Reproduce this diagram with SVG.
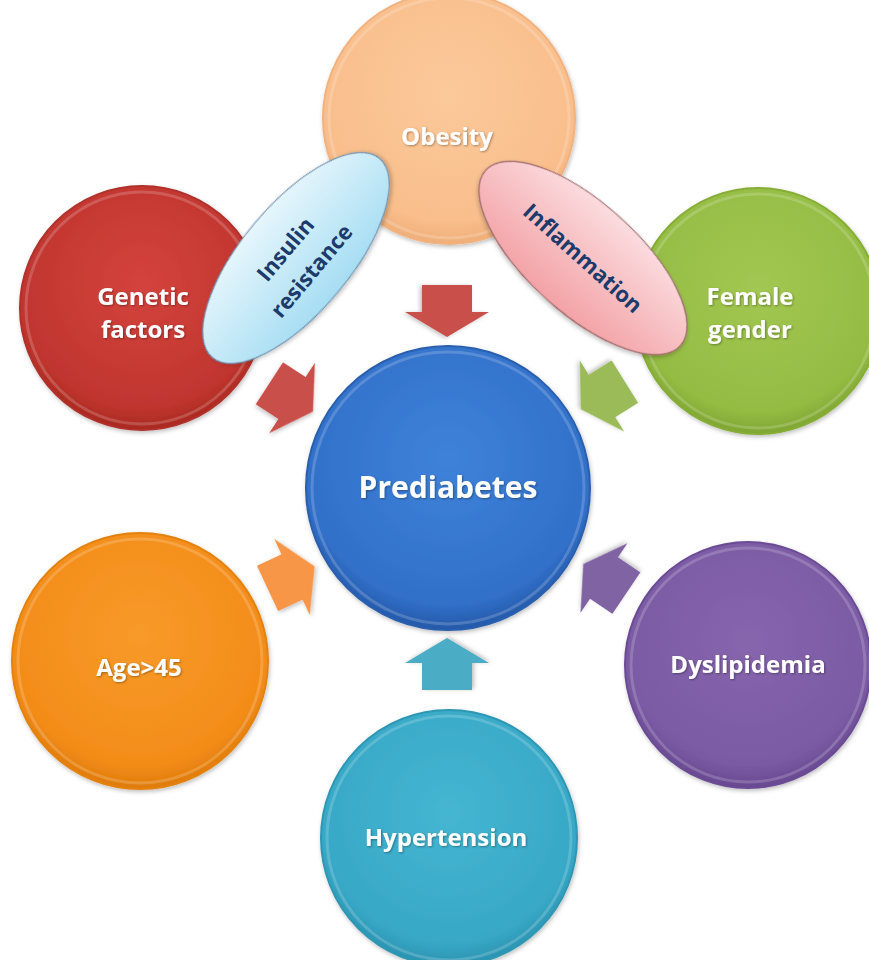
<svg xmlns="http://www.w3.org/2000/svg" width="869" height="960" viewBox="0 0 869 960">
<defs>
<radialGradient id="gRed" cx="50%" cy="40%" r="60%"><stop offset="0" stop-color="#D4433D"/><stop offset="0.85" stop-color="#C0352F"/><stop offset="1" stop-color="#A8291F"/></radialGradient>
<radialGradient id="gPeach" cx="50%" cy="40%" r="60%"><stop offset="0" stop-color="#FCC99A"/><stop offset="0.85" stop-color="#F9BE8C"/><stop offset="1" stop-color="#EFAE78"/></radialGradient>
<radialGradient id="gGreen" cx="50%" cy="40%" r="60%"><stop offset="0" stop-color="#A2C752"/><stop offset="0.85" stop-color="#94BC43"/><stop offset="1" stop-color="#7FA532"/></radialGradient>
<radialGradient id="gBlue" cx="50%" cy="40%" r="60%"><stop offset="0" stop-color="#3F82DA"/><stop offset="0.85" stop-color="#3170C9"/><stop offset="1" stop-color="#2558A8"/></radialGradient>
<radialGradient id="gOrange" cx="50%" cy="40%" r="60%"><stop offset="0" stop-color="#F89A2A"/><stop offset="0.85" stop-color="#F38C18"/><stop offset="1" stop-color="#DE7A0A"/></radialGradient>
<radialGradient id="gPurple" cx="50%" cy="40%" r="60%"><stop offset="0" stop-color="#8766AE"/><stop offset="0.85" stop-color="#7A5AA3"/><stop offset="1" stop-color="#664890"/></radialGradient>
<radialGradient id="gTeal" cx="50%" cy="40%" r="60%"><stop offset="0" stop-color="#45B6D2"/><stop offset="0.85" stop-color="#37A8C6"/><stop offset="1" stop-color="#2A92AF"/></radialGradient>
<linearGradient id="gIns" x1="0" y1="0" x2="0" y2="1"><stop offset="0" stop-color="#E6F6FC"/><stop offset="1" stop-color="#A6DDF3"/></linearGradient>
<linearGradient id="gInf" x1="0" y1="0" x2="0" y2="1"><stop offset="0" stop-color="#FBDCDF"/><stop offset="1" stop-color="#F3A2A6"/></linearGradient>
<filter id="sh" x="-20%" y="-20%" width="140%" height="140%"><feDropShadow dx="1" dy="2" stdDeviation="2" flood-color="#000" flood-opacity="0.25"/></filter>
<filter id="tsh" x="-10%" y="-30%" width="120%" height="160%"><feDropShadow dx="1" dy="1" stdDeviation="0.8" flood-color="#000" flood-opacity="0.35"/></filter>
<polygon id="arr" points="-27,-25 0,-25 0,-42 25,0 0,42 0,25 -27,25"/>
</defs>
<style>
.c{filter:url(#sh);stroke-width:2;}
.ring{fill:none;stroke:#fff;stroke-opacity:0.18;stroke-width:3;}
.lbl{font-family:"Open Sans","Liberation Sans",sans-serif;font-weight:bold;font-size:24px;fill:#fff;text-anchor:middle;filter:url(#tsh);}
.big{font-size:30px;}
.elbl{font-family:"Open Sans","Liberation Sans",sans-serif;font-weight:bold;font-size:22px;fill:#1C3A6B;text-anchor:middle;}
.ar{filter:url(#sh);}
</style>
<rect width="869" height="960" fill="#fff"/>

<g id="obesity">
<circle class="c" cx="449" cy="118" r="126" fill="url(#gPeach)" stroke="#F2B27E"/>
<circle class="ring" cx="449" cy="118" r="120"/>
<text class="lbl" x="447" y="145">Obesity</text>
</g>
<g id="genetic-factors">
<circle class="c" cx="142" cy="308" r="122" fill="url(#gRed)" stroke="#B0302A"/>
<circle class="ring" cx="142" cy="308" r="116"/>
<text class="lbl" x="143" y="305">Genetic</text>
<text class="lbl" x="143" y="338">factors</text>
</g>
<g id="female-gender">
<circle class="c" cx="758" cy="311" r="123" fill="url(#gGreen)" stroke="#86AD35"/>
<circle class="ring" cx="758" cy="311" r="117"/>
<text class="lbl" x="750" y="305">Female</text>
<text class="lbl" x="750" y="338">gender</text>
</g>
<g id="prediabetes">
<circle class="c" cx="448" cy="488" r="142" fill="url(#gBlue)" stroke="#2A5EAE"/>
<circle class="ring" cx="448" cy="488" r="136"/>
<text class="lbl big" x="448" y="498">Prediabetes</text>
</g>
<g id="age">
<circle class="c" cx="140" cy="661" r="128" fill="url(#gOrange)" stroke="#E38210"/>
<circle class="ring" cx="140" cy="661" r="122"/>
<text class="lbl" x="139" y="676">Age&gt;45</text>
</g>
<g id="dyslipidemia">
<circle class="c" cx="748" cy="665" r="123" fill="url(#gPurple)" stroke="#6A4C94"/>
<circle class="ring" cx="748" cy="665" r="117"/>
<text class="lbl" x="748" y="673">Dyslipidemia</text>
</g>
<g id="hypertension">
<circle class="c" cx="449" cy="838" r="128" fill="url(#gTeal)" stroke="#2E97B3"/>
<circle class="ring" cx="449" cy="838" r="122"/>
<text class="lbl" x="446" y="846">Hypertension</text>
</g>

<g id="insulin-resistance" transform="translate(296,258) rotate(-50)">
<ellipse cx="0" cy="0" rx="130" ry="54" fill="url(#gIns)" stroke="#6E8FAE" stroke-width="1.2" filter="url(#sh)"/>
<text class="elbl" x="0" y="-6">Insulin</text>
<text class="elbl" x="0" y="28">resistance</text>
</g>
<g id="inflammation" transform="translate(583,258) rotate(42)">
<ellipse cx="0" cy="0" rx="131" ry="55" fill="url(#gInf)" stroke="#9E6A6A" stroke-width="1.2" filter="url(#sh)"/>
<text class="elbl" x="0" y="8">Inflammation</text>
</g>

<g id="connectors">
<use href="#arr" class="ar" fill="#C9504B" transform="translate(447,312) rotate(90)"/>
<use href="#arr" class="ar" fill="#C9504B" transform="translate(292,398) rotate(33)"/>
<use href="#arr" class="ar" fill="#9BBB59" transform="translate(602,396) rotate(148)"/>
<use href="#arr" class="ar" fill="#F79646" transform="translate(292,577) rotate(-25)"/>
<use href="#arr" class="ar" fill="#8064A2" transform="translate(604,578) rotate(-146)"/>
<use href="#arr" class="ar" fill="#4BACC6" transform="translate(447,663) rotate(-90)"/>
</g>
</svg>
